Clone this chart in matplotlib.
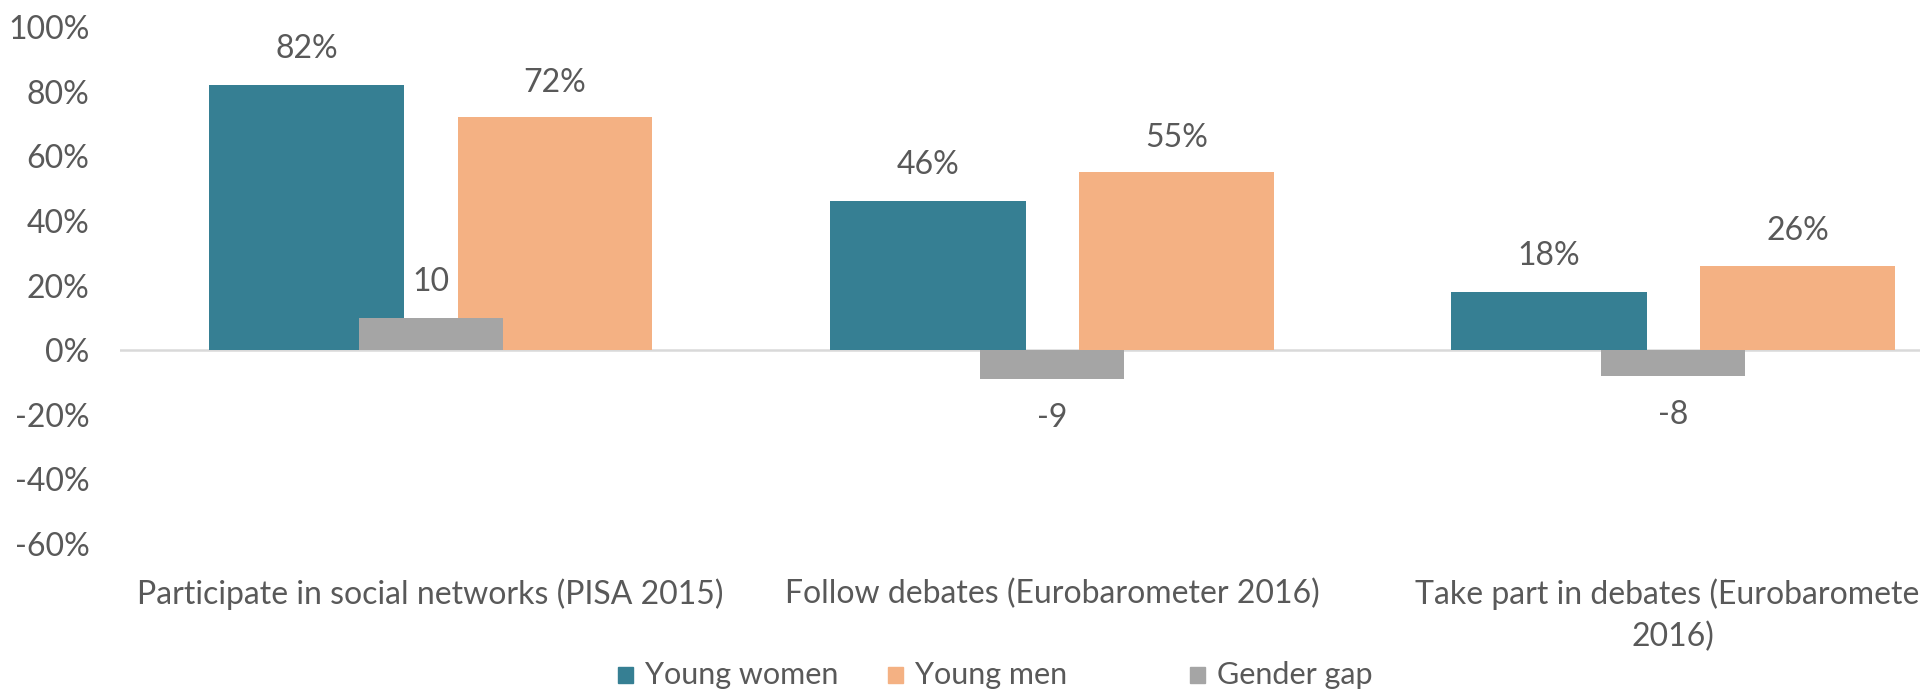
import numpy as np
import matplotlib.pyplot as plt
from matplotlib.patches import Rectangle

categories = [
    "Participate in social networks (PISA 2015)",
    "Follow debates (Eurobarometer 2016)",
    "Take part in debates (Eurobarometer\n2016)",
]
young_women = [82, 46, 18]
young_men = [72, 55, 26]
gender_gap = [10, -9, -8]
series_names = ["Young women", "Young men", "Gender gap"]

WOMEN_COLOR = "#367F93"
MEN_COLOR = "#F4B183"
GAP_COLOR = "#A5A5A5"
TEXT_COLOR = "#595959"
FONT = ["Lato", "DejaVu Sans"]
FS = 23

plt.rcParams["font.family"] = FONT

fig = plt.figure(figsize=(19.2, 6.94), dpi=100)
ax = fig.add_axes([120 / 1920, 150 / 694, 1864 / 1920, 517 / 694])

x = np.arange(len(categories))
ax.bar(x - 0.2, young_women, width=0.315, color=WOMEN_COLOR, zorder=2)
ax.bar(x + 0.2, young_men, width=0.313, color=MEN_COLOR, zorder=2)
ax.bar(x, gender_gap, width=0.232, color=GAP_COLOR, zorder=3)

for xi, v in zip(x, young_women):
    ax.annotate(f"{v}%", (xi - 0.2, v), xytext=(0, 26), textcoords="offset points",
                ha="center", va="center", fontsize=FS, color=TEXT_COLOR)
for xi, v in zip(x, young_men):
    ax.annotate(f"{v}%", (xi + 0.2, v), xytext=(0, 25), textcoords="offset points",
                ha="center", va="center", fontsize=FS, color=TEXT_COLOR)
for xi, v in zip(x, gender_gap):
    off = 26 if v >= 0 else -28
    ax.annotate(f"{v}", (xi, v), xytext=(0, off), textcoords="offset points",
                ha="center", va="center", fontsize=FS, color=TEXT_COLOR)

ax.axhline(0, color="#D9D9D9", linewidth=1.8, zorder=1)

ax.set_xlim(-0.5, len(categories) - 0.5)
ax.set_ylim(-60, 100)
ax.set_yticks(np.arange(-60, 101, 20))
ax.set_yticklabels([f"{t}%" for t in range(-60, 101, 20)])
ax.set_xticks(x)
ax.set_xticklabels(categories, linespacing=1.45)

for s in ax.spines.values():
    s.set_visible(False)
ax.tick_params(axis="y", length=0, pad=22, labelsize=FS, labelcolor=TEXT_COLOR)
ax.tick_params(axis="x", length=0, pad=25, labelsize=FS, labelcolor=TEXT_COLOR)

# legend laid out by hand: Excel spaces the entries unevenly
legend_y = 1 - 675 / 694
square_x = [618, 888, 1190]
for sx, name, col in zip(square_x, series_names, [WOMEN_COLOR, MEN_COLOR, GAP_COLOR]):
    fig.add_artist(Rectangle((sx / 1920, legend_y - 8 / 694), 15 / 1920, 16 / 694,
                             transform=fig.transFigure, color=col))
    fig.text((sx + 27) / 1920, legend_y, name, ha="left", va="center",
             fontsize=22, color=TEXT_COLOR)

fig.savefig("out.png", dpi=100)
